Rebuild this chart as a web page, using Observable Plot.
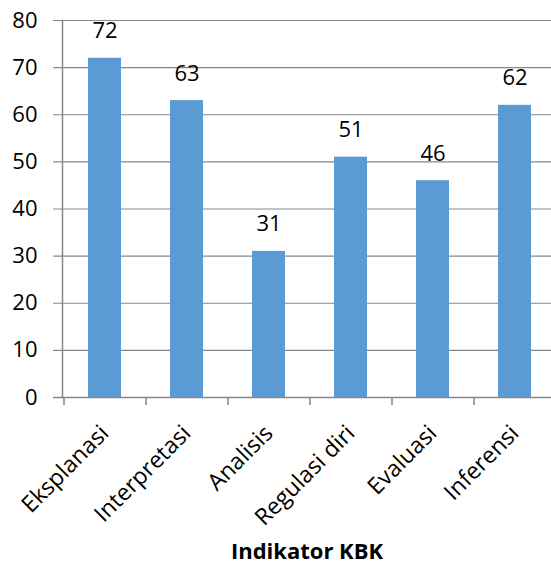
<!DOCTYPE html>
<html>
<head>
<meta charset="utf-8">
<script src="https://cdn.jsdelivr.net/npm/d3@7"></script>
<script src="https://cdn.jsdelivr.net/npm/@observablehq/plot@0.6"></script>
<style>
  html, body { margin: 0; padding: 0; background: #fff; overflow: hidden; }
</style>
</head>
<body>
<div id="chart"></div>
<script>
const categories = ["Eksplanasi", "Interpretasi", "Analisis", "Regulasi diri", "Evaluasi", "Inferensi"];
const values = [72, 63, 31, 51, 46, 62];
const yTicks = [0, 10, 20, 30, 40, 50, 60, 70, 80];
const xTitle = "Indikator KBK";

const data = categories.map((c, i) => ({cat: c, val: values[i]}));
const grey = "#878787";

const chart = Plot.plot({
  width: 551,
  height: 565,
  marginTop: 20,
  marginLeft: 62,
  marginRight: 0,
  marginBottom: 168,
  style: {fontFamily: "'Open Sans', sans-serif", fontSize: "22px", color: "#000", background: "#fff"},
  x: {domain: categories, range: [63, 555], paddingInner: 0.6, paddingOuter: 0.3, label: null, axis: null},
  y: {domain: [0, 80], ticks: yTicks, label: null, axis: null},
  marks: [
    Plot.ruleY(yTicks, {y: d => d, insetLeft: -9, stroke: grey, strokeWidth: 1.2}),
    Plot.barY(data, {x: "cat", y: "val", fill: "#5B9BD5"}),
    Plot.ruleY([0], {insetLeft: -9, stroke: grey, strokeWidth: 1.5}),
    Plot.ruleX(categories, {x: d => d, dx: -41, y1: 0, y2: 0, insetBottom: -8, stroke: grey, strokeWidth: 1.5}),
    Plot.text(yTicks, {y: d => d, text: d => String(d), frameAnchor: "left", dx: -25, textAnchor: "end", fontSize: 22, fill: "#000"}),
    Plot.frame({anchor: "left", stroke: grey, strokeWidth: 1.5}),
    Plot.axisX({tickSize: 0, tickPadding: 32, tickRotate: -45, fill: "#000", fontSize: 23, label: null}),
    Plot.text(data, {x: "cat", y: "val", text: d => String(d.val), dy: -27, fontSize: 22, fill: "#000"}),
    Plot.text([xTitle], {text: d => d, frameAnchor: "bottom", dy: 161, fontWeight: "bold", fontSize: 22, fill: "#000"})
  ]
});
document.getElementById("chart").appendChild(chart);
</script>
</body>
</html>
